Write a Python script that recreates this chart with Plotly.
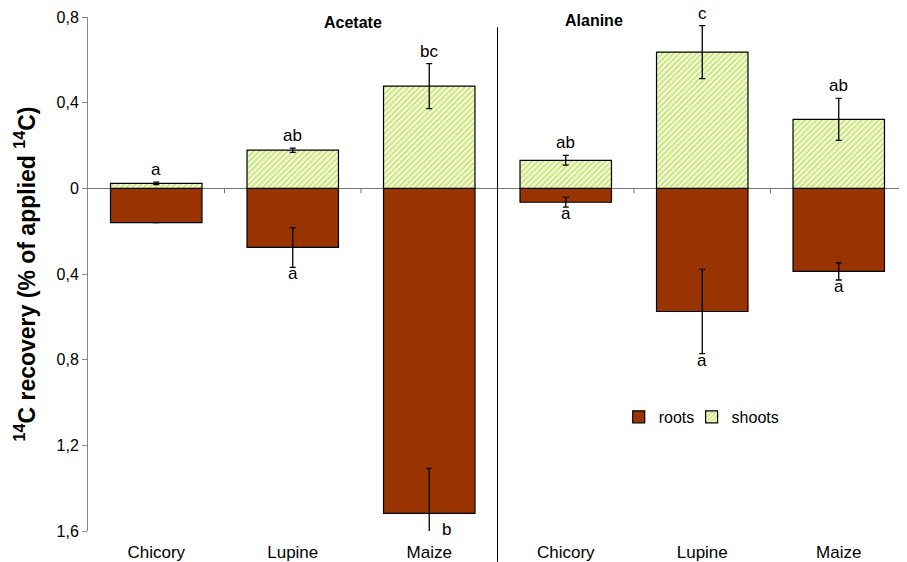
import plotly.graph_objects as go

# ---- data ----
categories = ["Chicory", "Lupine", "Maize", "Chicory", "Lupine", "Maize"]
groups = ["Acetate", "Alanine"]
shoots = [0.023, 0.178, 0.477, 0.131, 0.636, 0.322]
shoots_err = [0.006, 0.010, 0.105, 0.023, 0.124, 0.098]
roots = [-0.160, -0.276, -1.518, -0.065, -0.575, -0.388]
roots_err = [0.0, 0.093, 0.210, 0.023, 0.197, 0.040]
shoot_letters = ["a", "ab", "bc", "ab", "c", "ab"]
root_letters = ["", "a", "b", "a", "a", "a"]
ytick_vals = [-1.6, -1.2, -0.8, -0.4, 0, 0.4, 0.8]
ytick_text = ["1,6", "1,2", "0,8", "0,4", "0", "0,4", "0,8"]

FONT = "Liberation Sans, Arial, sans-serif"
x = list(range(len(categories)))

fig = go.Figure()
fig.add_trace(go.Bar(
    x=x, y=roots, name="roots", width=0.67, legend="legend",
    marker=dict(color="#993300", line=dict(color="black", width=1.2)),
    error_y=dict(type="data", array=[e if e > 0 else None for e in roots_err],
                 color="black", thickness=1.3, width=3, visible=True),
))
fig.add_trace(go.Bar(
    x=x, y=shoots, name="shoots", width=0.67, legend="legend2",
    marker=dict(color="#f4fadf", line=dict(color="black", width=1.2),
                pattern=dict(shape="/", fgcolor="#99cc00", bgcolor="#f4fadf",
                             size=4, solidity=0.45, fillmode="overlay")),
    error_y=dict(type="data", array=shoots_err, color="black",
                 thickness=1.3, width=3, visible=True),
))

annotations = []
for i in x:
    annotations.append(dict(x=i, y=shoots[i] + shoots_err[i], xref="x", yref="y",
                            text=shoot_letters[i], showarrow=False, yanchor="bottom",
                            yshift=1, font=dict(size=17, color="black", family=FONT)))
    if root_letters[i]:
        low = roots[i] - roots_err[i]
        if low < -1.6:
            annotations.append(dict(x=i, y=-1.6, xref="x", yref="y", text=root_letters[i],
                                    showarrow=False, xanchor="left", yanchor="middle",
                                    xshift=11, yshift=2,
                                    font=dict(size=17, color="black", family=FONT)))
        else:
            annotations.append(dict(x=i, y=low, xref="x", yref="y", text=root_letters[i],
                                    showarrow=False, yanchor="top", yshift=5,
                                    font=dict(size=17, color="black", family=FONT)))

# group titles
annotations.append(dict(x=1.44, y=0.99, xref="x", yref="paper", text="<b>" + groups[0] + "</b>",
                        showarrow=False, yanchor="middle", font=dict(size=16, color="black", family=FONT)))
annotations.append(dict(x=3.21, y=0.993, xref="x", yref="paper", text="<b>" + groups[1] + "</b>",
                        showarrow=False, yanchor="middle", font=dict(size=16, color="black", family=FONT)))

shapes = []
# separator line
shapes.append(dict(type="line", xref="x", yref="paper", x0=2.5, x1=2.5, y0=-0.06, y1=0.98,
                   line=dict(color="black", width=1)))
# small ticks on zero line
for b in [0.5, 1.5, 3.5, 4.5]:
    shapes.append(dict(type="line", xref="x", yref="y", ysizemode="pixel", yanchor=0,
                       x0=b, x1=b, y0=0, y1=-5, line=dict(color="#777777", width=1)))

legend_style = dict(orientation="h", xanchor="left", yanchor="middle", y=0.222,
                    font=dict(size=16, family=FONT), bgcolor="rgba(0,0,0,0)",
                    itemwidth=30, tracegroupgap=0)

# page body has an 8px margin: figure is sized to fit the 907x562 window
fig.update_layout(
    width=899, height=554,
    margin=dict(l=80, r=0, t=9, b=31, autoexpand=False),
    paper_bgcolor="white", plot_bgcolor="white",
    barmode="relative", bargap=0.33,
    font=dict(family=FONT, size=16, color="black"),
    showlegend=True,
    legend=dict(x=0.648, **legend_style),
    legend2=dict(x=0.737, **legend_style),
    annotations=annotations, shapes=shapes,
    xaxis=dict(range=[-0.5, 5.5], tickmode="array", tickvals=x, ticktext=categories,
               showline=False, showgrid=False, zeroline=False, ticks="", automargin=False,
               ticklabelstandoff=9,
               tickfont=dict(size=17, family=FONT)),
    yaxis=dict(range=[-1.6, 0.8], tickmode="array", tickvals=ytick_vals, ticktext=ytick_text,
               showline=True, linecolor="#888888", linewidth=1, ticks="outside",
               ticklen=5, tickcolor="#888888", showgrid=False, automargin=False,
               zeroline=True, zerolinecolor="#777777", zerolinewidth=1,
               tickfont=dict(size=16, family=FONT),
               title=dict(text="<b><sup>14</sup>C recovery (% of applied <sup>14</sup>C)</b>",
                          font=dict(size=23, family=FONT), standoff=14)),
)

fig.write_html("out.html")
